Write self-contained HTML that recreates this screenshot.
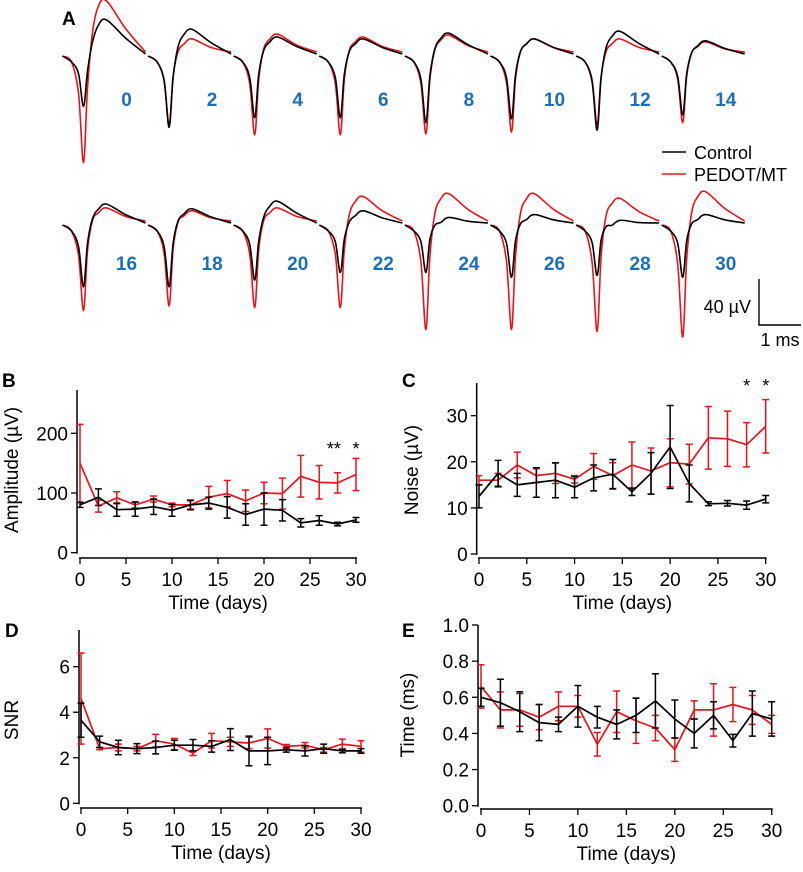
<!DOCTYPE html>
<html><head><meta charset="utf-8"><style>
html,body{margin:0;padding:0;background:#fff;}
svg{display:block;font-family:"Liberation Sans",Arial,sans-serif;}
</style></head><body>
<svg id="fig" width="803" height="872" viewBox="0 0 803 872">
<g id="panelA"></g>
<g id="panelB"></g>
<g id="panelC"></g>
<g id="panelD"></g>
<g id="panelE"></g>
</svg>
<script>
const days = [0,2,4,6,8,10,12,14,16,18,20,22,24,26,28,30];
const ampRed = [150,78,92,80,90,80,80,93,99,87,100,99,128,118,117,131];
const ampRedErr = [65,10,10,5,5,3,7,18,22,18,18,26,35,28,17,27];
const ampBlack = [80,93,72,73,77,71,80,83,76,64,73,71,50,54,48,55];
const ampBlackErr = [4,14,11,12,13,10,8,10,18,18,27,18,7,8,3,4];
const noiseRed = [16,16,19.3,17,17.5,16.2,19,17,19.3,18,19.8,19.5,25.2,25,23.7,27.7];
const noiseRedErr = [1,1.5,2.8,1.5,2.2,0.8,2.8,2.8,5,5,5.2,4.3,6.8,6,4.8,5.8];
const noiseBlack = [12.5,17.5,15,15.5,16,14.5,16.5,17.3,13.5,17.5,23.2,15.3,10.9,11,10.6,11.9];
const noiseBlackErr = [2.5,2.8,2.5,3.2,3.8,2.3,2.8,3.2,0.8,4.5,9,4,0.4,0.6,0.9,0.8];
const snrRed = [4.6,2.4,2.45,2.4,2.75,2.6,2.2,2.75,2.7,2.65,2.85,2.5,2.55,2.35,2.6,2.5];
const snrRedErr = [2.0,0.05,0.15,0.1,0.28,0.25,0.1,0.32,0.2,0.25,0.42,0.08,0.12,0.1,0.22,0.25];
const snrBlack = [3.65,2.7,2.45,2.4,2.45,2.55,2.55,2.5,2.8,2.3,2.3,2.35,2.3,2.4,2.3,2.3];
const snrBlackErr = [0.75,0.25,0.32,0.22,0.28,0.22,0.25,0.25,0.48,0.65,0.6,0.1,0.22,0.2,0.08,0.1];
const timeRed = [0.66,0.53,0.53,0.49,0.55,0.55,0.34,0.52,0.47,0.43,0.31,0.53,0.53,0.56,0.53,0.45];
const timeRedErr = [0.12,0.1,0.09,0.07,0.08,0.06,0.065,0.115,0.125,0.07,0.065,0.05,0.145,0.095,0.08,0.05];
const timeBlack = [0.6,0.57,0.52,0.46,0.45,0.55,0.49,0.45,0.5,0.58,0.48,0.4,0.5,0.36,0.51,0.48];
const timeBlackErr = [0.05,0.13,0.11,0.1,0.04,0.115,0.06,0.08,0.095,0.15,0.105,0.08,0.075,0.035,0.125,0.095];
const xTicks = [0,5,10,15,20,25,30];

const waveDays = [0,2,4,6,8,10,12,14,16,18,20,22,24,26,28,30];
const waveBlackTrough = [-53,-75,-65,-65,-70,-66,-78,-62,-65,-65,-58,-50,-50,-55,-53,-55];
const waveRedTrough = [-112,-72,-83,-83,-82,-80,-72,-70,-90,-85,-87,-87,-110,-110,-112,-118];
const waveBlackPeak = [38,28,20,18,24,18,26,16,22,17,25,15,8,11,5,11];
const waveRedPeak = [58,18,23,20,22,18,18,15,18,15,18,30,33,33,28,35];

const NS='http://www.w3.org/2000/svg';
function el(parent,tag,attrs,text){const e=document.createElementNS(NS,tag);for(const k in attrs)e.setAttribute(k,attrs[k]);if(text!==undefined)e.textContent=text;parent.appendChild(e);return e;}

function smooth(pts){let d='M'+pts[0][0]+','+pts[0][1];for(let i=0;i<pts.length-1;i++){const p0=pts[i-1]||pts[i],p1=pts[i],p2=pts[i+1],p3=pts[i+2]||p2;const c1=[p1[0]+(p2[0]-p0[0])/6,p1[1]+(p2[1]-p0[1])/6];const c2=[p2[0]-(p3[0]-p1[0])/6,p2[1]-(p3[1]-p1[1])/6];d+=' C'+c1[0].toFixed(1)+','+c1[1].toFixed(1)+' '+c2[0].toFixed(1)+','+c2[1].toFixed(1)+' '+p2[0].toFixed(1)+','+p2[1].toFixed(1);}return d;}

(function(){
  const g=document.getElementById('panelA');
  const t=el(g,'text',{x:62,y:25,'font-size':19,'font-weight':'bold'},'A');
  
  
  const k=0.95;
  waveDays.forEach((d,i)=>{
    const row=i<8?0:1, col=i%8;
    const xT=83.5+col*85.6;
    const base=row===0?56:225;
    function wave(trough,peak,color,name,endOff){
      const yT=base-trough*k, yP=base-peak*k, y0=base;
      const pts=[[xT-21,y0],[xT-12,y0+6],[xT-5,y0+(yT-y0)*0.35],[xT,yT],[xT+4,y0+(yT-y0)*0.3],[xT+9,(y0+yP)/2+4],[xT+15,yP+5],[xT+23,yP],[xT+42,yP+(base-yP)*0.5],[xT+62,base+endOff]];
      const p=el(g,'path',{d:smooth(pts),fill:'none',stroke:color,'stroke-width':1.6,'stroke-linejoin':'round'});
      
      
    }
    wave(waveRedTrough[i],waveRedPeak[i],'#e8141b','waveform-pedot-day-'+d,-4);
    wave(waveBlackTrough[i],waveBlackPeak[i],'#000','waveform-control-day-'+d,-2);
    const lab=el(g,'text',{x:xT+43,y:(row===0?106:270),'font-size':19,'font-weight':'bold',fill:'#1a6fba','text-anchor':'middle'},String(d));
    
    
  });
  const leg=el(g,'g',{});
  
  
  el(leg,'line',{x1:662,x2:686,y1:152,y2:152,stroke:'#000','stroke-width':1.6});
  const l1=el(leg,'text',{x:694,y:159,'font-size':18},'Control');
  
  
  el(leg,'line',{x1:662,x2:686,y1:174,y2:174,stroke:'#e8141b','stroke-width':1.6});
  const l2=el(leg,'text',{x:694,y:181,'font-size':18},'PEDOT/MT');
  
  
  const sb=el(g,'g',{});
  
  
  el(sb,'path',{d:'M759,279 V325 H801',fill:'none',stroke:'#000','stroke-width':1.4});
  el(sb,'text',{x:751,y:313,'font-size':18,'text-anchor':'end'},'40 µV');
  el(sb,'text',{x:780,y:346,'font-size':18,'text-anchor':'middle'},'1 ms');
})();

function chart(id,cfg){
  const g=document.getElementById(id);
  const X=v=>cfg.x0+(cfg.x30-cfg.x0)*v/30;
  const Y=v=>cfg.yz+(cfg.yt-cfg.yz)*(v/cfg.tv);
  const pl=el(g,'text',{x:cfg.lx,y:cfg.ly,'font-size':19,'font-weight':'bold'},cfg.letter);
  
  
  const ya=el(g,'line',{x1:cfg.ax,x2:cfg.ax,y1:cfg.atop,y2:Y(0)+1,stroke:'#000','stroke-width':1.5});
  
  
  cfg.yticks.forEach((v,i)=>{el(g,'line',{x1:cfg.ax-6,x2:cfg.ax,y1:Y(v),y2:Y(v),stroke:'#000','stroke-width':1.3});
    const tl=el(g,'text',{x:cfg.ax-9,y:Y(v)+7,'font-size':19,'text-anchor':'end'},cfg.ylabels[i]);
    
    });
  const xa=el(g,'line',{x1:X(0)-1,x2:X(30)+1,y1:cfg.xay,y2:cfg.xay,stroke:'#000','stroke-width':1.5});
  
  
  xTicks.forEach(v=>{el(g,'line',{x1:X(v),x2:X(v),y1:cfg.xay,y2:cfg.xay+6,stroke:'#000','stroke-width':1.3});
    const tl=el(g,'text',{x:X(v),y:cfg.xay+28,'font-size':19,'text-anchor':'middle'},String(v));
    
    });
  const xt=el(g,'text',{x:(X(0)+X(30))/2,y:cfg.xay+51,'font-size':19,'text-anchor':'middle'},'Time (days)');
  
  
  const yt=el(g,'text',{x:0,y:0,'font-size':19,'text-anchor':'middle',transform:'translate('+cfg.ytx+','+cfg.yty+') rotate(-90)'},cfg.ytitle);
  
  
  cfg.series.forEach(s=>{
    const sg=el(g,'g',{});
    
    
    s.vals.forEach((v,i)=>{const x=X(days[i]),e=s.err[i];
      el(sg,'path',{d:'M'+x+','+Y(v-e)+'V'+Y(v+e)+'M'+(x-3.5)+','+Y(v-e)+'h7M'+(x-3.5)+','+Y(v+e)+'h7',stroke:s.color,'stroke-width':1.5,fill:'none'});});
    const ln=el(sg,'polyline',{points:s.vals.map((v,i)=>X(days[i]).toFixed(1)+','+Y(v).toFixed(1)).join(' '),fill:'none',stroke:s.color,'stroke-width':1.7,'stroke-linejoin':'round'});
    
    
  });
  (cfg.stars||[]).forEach(s=>{const st=el(g,'text',{x:X(s[0]),y:s[1],'font-size':18,'text-anchor':'middle'},s[2]);
    
    });
}
chart('panelB',{letter:'B',lx:2,ly:387,x0:80,x30:356,yz:552.7,yt:433.3,tv:200,ax:77,atop:390,xay:558,yticks:[0,100,200],ylabels:['0','100','200'],ytitle:'Amplitude (µV)',ytx:18,yty:470,
  series:[{name:'series-pedot',color:'#e8141b',vals:ampRed,err:ampRedErr},{name:'series-control',color:'#000',vals:ampBlack,err:ampBlackErr}],stars:[[27.6,455,'**'],[30,455,'*']]});
chart('panelC',{letter:'C',lx:402,ly:387,x0:479,x30:765.7,yz:554,yt:415.7,tv:30,ax:476.7,atop:383,xay:558,yticks:[0,10,20,30],ylabels:['0','10','20','30'],ytitle:'Noise (µV)',ytx:418,yty:470,
  series:[{name:'series-pedot',color:'#e8141b',vals:noiseRed,err:noiseRedErr},{name:'series-control',color:'#000',vals:noiseBlack,err:noiseBlackErr}],stars:[[28,392,'*'],[30,392,'*']]});
chart('panelD',{letter:'D',lx:5,ly:637,x0:81,x30:361,yz:803.3,yt:666.7,tv:6,ax:79,atop:630,xay:808,yticks:[0,2,4,6],ylabels:['0','2','4','6'],ytitle:'SNR',ytx:18,yty:720,
  series:[{name:'series-pedot',color:'#e8141b',vals:snrRed,err:snrRedErr},{name:'series-control',color:'#000',vals:snrBlack,err:snrBlackErr}]});
chart('panelE',{letter:'E',lx:402,ly:637,x0:481,x30:771.7,yz:805.7,yt:625,tv:1,ax:478,atop:625,xay:809,yticks:[0,0.2,0.4,0.6,0.8,1.0],ylabels:['0.0','0.2','0.4','0.6','0.8','1.0'],ytitle:'Time (ms)',ytx:414,yty:715,
  series:[{name:'series-pedot',color:'#e8141b',vals:timeRed,err:timeRedErr},{name:'series-control',color:'#000',vals:timeBlack,err:timeBlackErr}]});
</script>
</body></html>
